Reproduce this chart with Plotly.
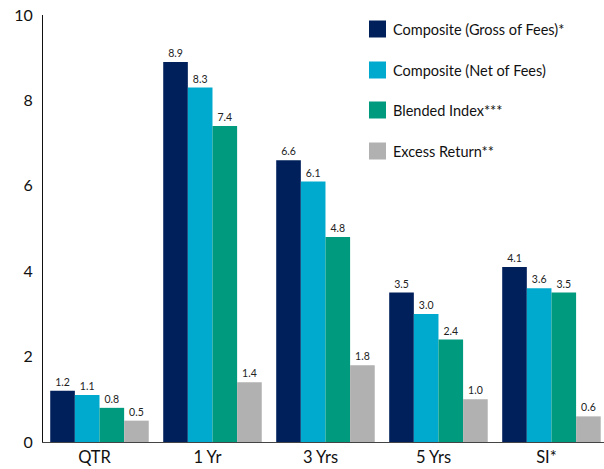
import plotly.graph_objects as go

categories = ["QTR", "1 Yr", "3 Yrs", "5 Yrs", "SI*"]
series_names = ["Composite (Gross of Fees)*", "Composite (Net of Fees)", "Blended Index***", "Excess Return**"]
gross = [1.2, 8.9, 6.6, 3.5, 4.1]
net = [1.1, 8.3, 6.1, 3.0, 3.6]
blended = [0.8, 7.4, 4.8, 2.4, 3.5]
excess = [0.5, 1.4, 1.8, 1.0, 0.6]
colors = ["#00205B", "#00A9CE", "#009A7E", "#B1B1B1"]
y_ticks = [0, 2, 4, 6, 8, 10]

FONT = "Lato"
fig = go.Figure()
for name, vals, c in zip(series_names, [gross, net, blended, excess], colors):
    fig.add_trace(go.Bar(
        x=categories, y=vals, name=name, marker=dict(color=c, line=dict(width=0)),
        text=[f"{v:.1f}" for v in vals], textposition="outside",
        textfont=dict(family=FONT, size=10.5, color="#222222"),
        cliponaxis=False, showlegend=False, hoverinfo="skip",
    ))

# custom legend
W, H = 604, 469
ml, mr, mt, mb = 43, 0, 15, 27
pw, ph = W - ml - mr, H - mt - mb
def px(x): return (x - ml) / pw
def py(y): return (H - mb - y) / ph
rows = [29, 70, 110, 151]
for name, c, yc in zip(series_names, colors, rows):
    fig.add_shape(type="rect", xref="paper", yref="paper",
                  x0=px(369), x1=px(386), y0=py(yc + 8.5), y1=py(yc - 8.5),
                  fillcolor=c, line=dict(width=0))
    fig.add_annotation(xref="paper", yref="paper", x=px(391), y=py(yc),
                       text=name, showarrow=False, xanchor="left", yanchor="middle",
                       font=dict(family=FONT, size=14.5, color="#111111"))

fig.update_layout(
    width=W, height=H, margin=dict(l=ml, r=mr, t=mt, b=mb),
    plot_bgcolor="white", paper_bgcolor="white",
    barmode="group", bargap=0.128, bargroupgap=0,
    showlegend=False,
    xaxis=dict(range=[-0.5, 4.465], showline=True, linecolor="#444444", linewidth=1, ticks="",
               tickfont=dict(family=FONT, size=16.5, color="#111111"), showgrid=False,
               ticklabelshift=-5),
    yaxis=dict(range=[0, 10], tickvals=y_ticks, showline=True, linecolor="#111111",
               linewidth=1, ticks="", showgrid=False, zeroline=False,
               ticklabelstandoff=6,
               tickfont=dict(family=FONT, size=16, color="#111111")),
)
fig.write_html("out.html", config={"displayModeBar": False},
               post_script="document.body.style.margin='0';document.body.style.overflow='hidden';")
